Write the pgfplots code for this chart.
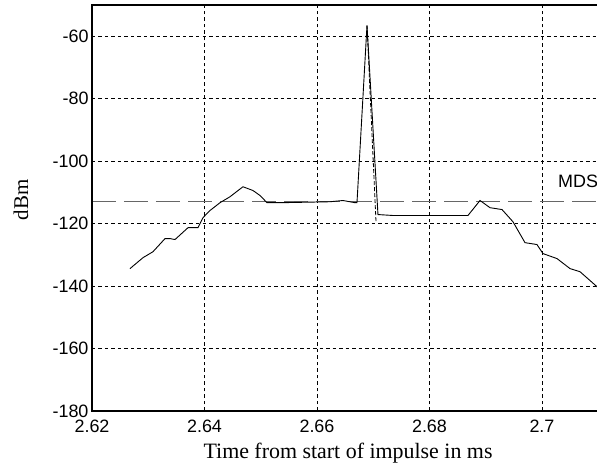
\documentclass[border=0pt]{standalone}
\usepackage{fontspec}
\setmainfont{Liberation Serif}
\newfontfamily\arial{Liberation Sans}
\usepackage{pgfplots}
\pgfplotsset{compat=1.18}
\begin{document}
\begin{tikzpicture}
\begin{axis}[
  name=ax,
  scale only axis,
  width=505bp, height=406bp,
  xmin=2.62, xmax=2.70978,
  ymin=-180, ymax=-50,
  xtick={2.62,2.64,2.66,2.68,2.70},
  xticklabels={2.62,2.64,2.66,2.68,2.7},
  ytick={-180,-160,-140,-120,-100,-80,-60},
  yticklabels={-180,-160,-140,-120,-100,-80,-60},
  grid=major,
  major grid style={black, line width=0.8bp, dash pattern=on 3.5bp off 3bp},
  major tick length=0pt,
  axis line style={draw=none},
  tick label style={font=\arial\fontsize{18}{20}\selectfont},
  xticklabel style={yshift=-5bp},
  /pgf/number format/assume math mode=true,
  xlabel={Time from start of impulse in ms},
  ylabel={dBm},
  xlabel style={font=\fontsize{22}{24}\selectfont, at={(rel axis cs:0.507,0)}, anchor=base, yshift=-47bp},
  ylabel style={font=\fontsize{21}{24}\selectfont, at={(rel axis cs:-0.1267,0.52)}, anchor=base},
]
% MDS threshold
\addplot[draw=black!60, line width=1.3bp, dash pattern=on 24bp off 8bp] coordinates {(2.62,-113) (2.72,-113)};
% measured trace
\addplot[black, line width=0.9bp] coordinates {
(2.62676,-134.4)
(2.62907,-130.9)
(2.63084,-129.0)
(2.63298,-124.8)
(2.63387,-124.8)
(2.63476,-125.1)
(2.63707,-121.3)
(2.63884,-121.3)
(2.63973,-118.1)
(2.64098,-115.8)
(2.64276,-113.3)
(2.64453,-111.4)
(2.64684,-108.2)
(2.64862,-109.4)
(2.64987,-111.0)
(2.65111,-113.3)
(2.65378,-113.3)
(2.66231,-113.0)
(2.66462,-112.6)
(2.66676,-113.3)
(2.66711,-113.3)
(2.66889,-56.5)
(2.67084,-117.1)
(2.67351,-117.4)
(2.68684,-117.4)
(2.68898,-112.6)
(2.69076,-114.9)
(2.69289,-115.5)
(2.69484,-119.4)
(2.69698,-126.1)
(2.69911,-126.7)
(2.70018,-129.6)
(2.70267,-131.2)
(2.70498,-134.4)
(2.70676,-135.4)
(2.70978,-140.2)
(2.7110,-141.8)
};
\addplot[black, line width=0.8bp, dash pattern=on 4bp off 2bp] coordinates {(2.66889,-56.5) (2.67050,-119.7)};
\node[font=\arial\fontsize{18}{20}\selectfont, anchor=base west, inner sep=0pt] at (axis cs:2.70284,-108.5) {MDS};
\end{axis}
\draw[line width=1.6bp, line join=miter] ([xshift=2bp]ax.north east) -- (ax.north west) -- (ax.south west) -- ([xshift=2bp]ax.south east);
\pgfresetboundingbox
\path[use as bounding box] ([xshift=-92bp,yshift=-62bp]ax.south west) rectangle ([yshift=5bp]ax.north east);
\end{tikzpicture}
\end{document}
